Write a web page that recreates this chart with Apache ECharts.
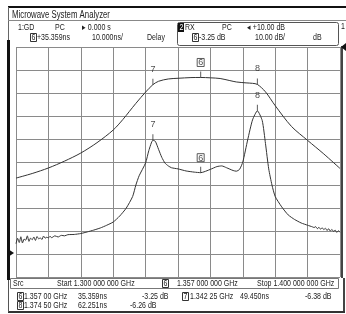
<!DOCTYPE html>
<html>
<head>
<meta charset="utf-8">
<script src="https://cdn.jsdelivr.net/npm/echarts@6/dist/echarts.min.js"></script>
<style>
  html, body { margin: 0; padding: 0; background: #fff; }
  #container { width: 346px; height: 314px; }
</style>
</head>
<body>
<div id="container"></div>
<script>
// frequency in MHz, 1300 .. 1400
let rxFreq = [1300, 1305, 1310, 1315, 1320, 1325, 1330, 1333, 1335, 1337, 1340, 1342.25, 1344, 1347, 1350, 1354, 1357,
    1360, 1363, 1366, 1368, 1371, 1373, 1374.5, 1377, 1380, 1385, 1390, 1395, 1400];
let rxDb = [-47, -45, -42.6, -39.6, -36.1, -31.6, -26.1, -21.5, -18, -14.5, -9.6, -6.38, -4.9, -3.9, -3.6, -3.3, -3.25,
    -3.4, -3.7, -4.6, -5.2, -5.6, -5.8, -6.26, -9.5, -15.5, -24.5, -30.6, -36.5, -42.8];

let gdFreq = [1300, 1300.5, 1301, 1301.5, 1302, 1302.5, 1303, 1303.5, 1304, 1304.5, 1305, 1305.5, 1306, 1306.5, 1307, 1307.5,
    1308, 1308.5, 1309, 1309.5, 1310, 1310.5, 1311, 1312, 1313, 1314, 1315, 1316, 1318, 1320, 1322, 1324, 1326, 1328, 1330,
    1332, 1334, 1336, 1337, 1338, 1340, 1341, 1342.25, 1343, 1344, 1345, 1346, 1347, 1348, 1350, 1352.5, 1355, 1357,
    1360, 1362, 1363.5, 1365, 1367, 1368, 1369, 1370, 1371.5, 1373, 1374.5, 1376, 1377, 1378, 1379, 1380, 1382, 1384,
    1386, 1388, 1390, 1391.5, 1392, 1392.5, 1393, 1393.5, 1394, 1394.5, 1395, 1395.5, 1396, 1396.5, 1397, 1397.5, 1398,
    1398.5, 1399, 1399.5, 1400];
let gdNs = [4.5, 6.8, 5.0, 7.5, 4.8, 6.5, 6.0, 7.9, 5.5, 6.9, 6.2, 7.4, 5.9, 7.6, 6.6, 7.0,
    6.3, 7.8, 6.9, 7.3, 7.0, 7.7, 7.1, 7.9, 7.4, 8.1, 7.9, 8.4, 8.5, 8.9, 9.6, 10.4, 11.3, 12.5, 13.9,
    16.5, 19.9, 25, 30, 34, 39.6, 45, 49.45, 49.0, 45.5, 42, 39.5, 38.3, 37.5, 37, 36.1, 35.6, 35.36,
    36.8, 38, 38.3, 37.5, 36.3, 36.0, 36.8, 40, 49.6, 58.3, 62.25, 58, 48, 37, 30, 25, 20.5, 17,
    15, 13.5, 12.5, 11.8, 11.5, 11.9, 11.0, 11.6, 10.8, 11.4, 10.6, 11.2, 10.2, 11.0, 10.0, 10.7, 9.8,
    10.4, 9.4, 10.1, 9.5];

// markers 6, 7, 8
let mkName = ['6', '7', '8'];
let mkFreq = [1357, 1342.25, 1374.5];
let mkNs = [35.359, 49.45, 62.251];
let mkDb = [-3.25, -6.38, -6.26];

const FONT = "'Liberation Sans', Arial, sans-serif";
const INK = '#333';
const SX = 0.78; // squeeze text to look like the analyzer's narrow font

function zip(a, b) {
    return a.map((v, i) => [v, b[i]]);
}
function mkData(vals) {
    return mkFreq.map((f, i) => ({
        value: [f, vals[i]],
        label: i === 0 ? { borderColor: INK, borderWidth: 1, padding: [0, 1, -1, 1] } : {}
    }));
}
function txt(x, y, s, extra, size) {
    return {
        type: 'text', x: x, y: y, scaleX: SX, z: 10,
        style: Object.assign({ text: s, fill: '#222', font: (size || 9) + 'px ' + FONT, verticalAlign: 'top' }, extra || {})
    };
}
function boxed(x, y, s) {
    return [
        { type: 'rect', shape: { x: x + 0.5, y: y + 0.5, width: 6, height: 8 }, style: { fill: 'none', stroke: '#333', lineWidth: 1 } },
        txt(x + 1.5, y, s)
    ];
}

let dom = document.getElementById('container');
let myChart = echarts.init(dom);

let graphics = [
    { type: 'rect', shape: { x: 8, y: 6, width: 338, height: 2 }, style: { fill: '#111' } },
    { type: 'line', shape: { x1: 8.5, y1: 7, x2: 8.5, y2: 40 }, style: { stroke: '#666' } },
    { type: 'line', shape: { x1: 8, y1: 20.5, x2: 346, y2: 20.5 }, style: { stroke: '#888' } },
    txt(12, 10, 'Microwave System Analyzer', {}, 10),
    txt(18, 23, '1:GD'), txt(55, 23, 'PC'), txt(82, 23, '\u25B8 0.000 s'),
    txt(37, 33, '+35.359ns'), txt(92, 33, '10.000ns/'), txt(147, 33, 'Delay'),
    { type: 'rect', shape: { x: 177.5, y: 22.5, width: 161, height: 23, r: 2 }, style: { fill: 'none', stroke: '#555' } },
    { type: 'rect', shape: { x: 178, y: 23, width: 6, height: 9 }, style: { fill: '#111' } },
    txt(179.5, 23, '2', { fill: '#fff' }),
    txt(185, 23, 'RX'), txt(222, 23, 'PC'), txt(247, 23, '\u25C2 +10.00 dB'),
    txt(199, 33, '-3.25 dB'), txt(255, 33, '10.00 dB/'), txt(313, 33, 'dB'),
    txt(341, 22, '1'),
    // frame sides
    { type: 'rect', shape: { x: 7, y: 40, width: 3, height: 240 }, style: { fill: '#111' } },
    { type: 'polygon', shape: { points: [[8, 249], [14, 253], [8, 257]] }, style: { fill: '#111' } },
    { type: 'rect', shape: { x: 341, y: 46, width: 2, height: 232 }, style: { fill: '#444' } },
    { type: 'polygon', shape: { points: [[346, 43], [341, 47], [346, 51]] }, style: { fill: '#111' } },
    { type: 'rect', shape: { x: 343, y: 278, width: 2, height: 34 }, style: { fill: '#444' } },
    { type: 'rect', shape: { x: 8, y: 311, width: 337, height: 2 }, style: { fill: '#333' } },
    { type: 'line', shape: { x1: 8.5, y1: 280, x2: 8.5, y2: 312 }, style: { stroke: '#555' } },
    // stimulus row
    { type: 'rect', shape: { x: 10.5, y: 278.5, width: 328, height: 10 }, style: { fill: 'none', stroke: '#777' } },
    txt(13, 279, 'Src'), txt(57, 279, 'Start 1.300 000 000 GHz'),
    txt(177, 279, '1.357 000 000 GHz'), txt(257, 279, 'Stop 1.400 000 000 GHz'),
    // marker table
    txt(24, 292, '1.357 00 GHz'), txt(78, 292, '35.359ns'), txt(142, 292, '-3.25 dB'),
    txt(190, 292, '1.342 25 GHz'), txt(240, 292, '49.450ns'), txt(305, 292, '-6.38 dB'),
    txt(24, 301, '1.374 50 GHz'), txt(78, 301, '62.251ns'), txt(130, 301, '-6.26 dB')
].concat(boxed(30, 33, '6'), boxed(192, 33, '6'), boxed(162, 279, '6'),
    boxed(17, 292, '6'), boxed(182, 292, '7'), boxed(17, 301, '8'));

let markerStyle = {
    type: 'scatter',
    symbol: 'rect',
    symbolSize: [1, 6],
    symbolOffset: [0, -3],
    itemStyle: { color: INK },
    label: {
        show: true,
        position: 'top',
        distance: 5,
        formatter: p => mkName[p.dataIndex],
        color: '#222',
        fontSize: 9,
        fontFamily: FONT
    },
    z: 5
};

let option = {
    animation: false,
    grid: { left: 16, top: 47, width: 324, height: 230 },
    xAxis: {
        type: 'value', min: 1300, max: 1400, interval: 10,
        axisLabel: { show: false }, axisTick: { show: false },
        axisLine: { show: false },
        splitLine: { show: true, lineStyle: { color: '#8a8a8a', width: 1 } }
    },
    yAxis: [{
        type: 'value', min: -10, max: 90, interval: 10,
        axisLabel: { show: false }, axisTick: { show: false }, axisLine: { show: false },
        splitLine: { show: true, lineStyle: { color: '#8a8a8a', width: 1 } }
    }, {
        type: 'value', min: -90, max: 10, interval: 10,
        axisLabel: { show: false }, axisTick: { show: false }, axisLine: { show: false },
        splitLine: { show: false }
    }],
    graphic: graphics,
    series: [{
        name: 'RX', type: 'line', yAxisIndex: 1,
        data: zip(rxFreq, rxDb), smooth: 0.3, showSymbol: false,
        lineStyle: { color: INK, width: 1 }
    }, {
        name: 'GD', type: 'line', yAxisIndex: 0,
        data: zip(gdFreq, gdNs), smooth: 0.2, showSymbol: false,
        lineStyle: { color: INK, width: 1 }
    },
    Object.assign({ yAxisIndex: 1, data: mkData(mkDb) }, markerStyle),
    Object.assign({ yAxisIndex: 0, data: mkData(mkNs) }, markerStyle)
    ]
};
myChart.setOption(option);
</script>
</body>
</html>
